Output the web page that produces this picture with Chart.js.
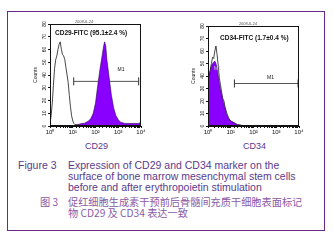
<!DOCTYPE html>
<html>
<head>
<meta charset="utf-8">
<script src="https://cdn.jsdelivr.net/npm/chart.js@4.4.0/dist/chart.umd.min.js"></script>
<style>
  body { margin: 0; width: 333px; height: 240px; background: #fff; position: relative; overflow: hidden;
         font-family: "Liberation Sans", Arial, sans-serif; }
  #frame { position: absolute; left: 7px; top: 11px; width: 316px; height: 218px; border: 1px solid #6b2a87; }
  canvas { position: absolute; }
  .t { position: absolute; white-space: nowrap; color: #5a3a8c; font-size: 10.5px; line-height: 11px; }
  .zh { font-family: "Noto Sans CJK SC", sans-serif; color: #8a5aa6; font-size: 10.2px; }
</style>
</head>
<body>
<div id="frame"></div>
<canvas id="cd29" width="122" height="126" style="left:26px;top:12px"></canvas>
<canvas id="cd34" width="122" height="124" style="left:184px;top:14px"></canvas>

<div class="t" style="left:85px;top:141px;font-size:9px">CD29</div>
<div class="t" style="left:243px;top:141px;font-size:9px">CD34</div>
<div class="t" style="left:18px;top:160px">Figure 3</div>
<div class="t" style="left:68px;top:160px">Expression of CD29 and CD34 marker on the<br>surface of bone marrow mesenchymal stem cells<br>before and after erythropoietin stimulation</div>
<div class="t zh" style="left:40px;top:196px">图 3</div>
<div class="t zh" style="left:68px;top:196px">促红细胞生成素干预前后骨髓间充质干细胞表面标记<br>物 CD29 及 CD34 表达一致</div>

<script>
// x positions are in decades (log10 of the channel value)
const decadeValues = [1, 10, 100, 1000, 10000];
const decadeLabels = ['10⁰', '10¹', '10²', '10³', '10⁴'];

// CD29 panel
const cd29CtrlLog = [0.00, 0.05, 0.10, 0.15, 0.20, 0.25, 0.30, 0.35, 0.40, 0.45, 0.50, 0.55, 0.60, 0.65, 0.70, 0.75, 0.80, 0.85, 0.90, 0.95, 1.00, 1.05, 1.10, 1.20, 1.30, 1.40];
const cd29Ctrl    = [2, 8, 18, 32, 45, 52, 55, 60, 64, 66, 60, 56, 55, 52, 46, 40, 34, 24, 15, 8, 4, 2, 1, 1, 0, 0];
const cd29StainLog = [1.00, 1.20, 1.40, 1.50, 1.60, 1.70, 1.80, 1.90, 2.00, 2.10, 2.20, 2.30, 2.35, 2.40, 2.45, 2.50, 2.60, 2.70, 2.80, 2.90, 3.00, 3.10, 3.30, 3.50, 3.70, 3.90, 4.00];
const cd29Stain    = [0, 1, 2, 2, 3, 4, 6, 10, 18, 32, 45, 56, 62, 66, 63, 52, 38, 24, 14, 8, 5, 3, 2, 2, 2, 2, 3];
const cd29Gate = [11, 7900];
const cd29GateLevel = 35;

// CD34 panel
const cd34CtrlLog = [0.00, 0.05, 0.10, 0.15, 0.20, 0.25, 0.30, 0.35, 0.40, 0.45, 0.50, 0.55, 0.60, 0.65, 0.70, 0.75, 0.80, 0.85, 0.90, 0.95, 1.00, 1.10, 1.20, 1.30, 1.50, 2.00];
const cd34Ctrl    = [48, 40, 45, 50, 55, 54, 60, 64, 57, 48, 38, 33, 27, 22, 20, 15, 12, 9, 7, 5, 4, 3, 2, 1, 0, 0];
const cd34StainLog = [0.00, 0.05, 0.10, 0.15, 0.20, 0.25, 0.30, 0.35, 0.40, 0.45, 0.50, 0.55, 0.60, 0.65, 0.70, 0.75, 0.80, 0.85, 0.90, 0.95, 1.00, 1.10, 1.20, 1.30, 1.40, 1.60];
const cd34Stain    = [36, 40, 44, 48, 50, 51, 52, 50, 46, 40, 34, 29, 25, 21, 17, 14, 10, 8, 6, 5, 4, 3, 2, 1, 1, 0];
const cd34Gate = [14.5, 9100];
const cd34GateLevel = 34;

function points(logs, counts) {
  return logs.map((d, i) => ({ x: Math.pow(10, d), y: counts[i] }));
}

// text drawn inside / above the plot box
const annotate = {
  id: 'annotate',
  afterDatasetsDraw(chart, args, o) {
    const { ctx, chartArea: a, scales } = chart;
    ctx.save();
    ctx.strokeStyle = '#111';
    ctx.lineWidth = 1;
    ctx.strokeRect(a.left + 0.5, a.top + 0.5, a.right - a.left - 1, a.bottom - a.top - 1);
    ctx.fillStyle = '#111';
    ctx.font = 'bold 6.5px "Liberation Sans", Arial';
    ctx.textBaseline = 'middle';
    ctx.fillText(o.title, a.left + o.titleDx, a.top + o.titleDy);
    ctx.font = '5px "Liberation Sans", Arial';
    ctx.textAlign = 'center';
    ctx.fillText('M1', scales.x.getPixelForValue(o.m1x), scales.y.getPixelForValue(o.m1y));
    if (o.ghost) {
      ctx.fillStyle = '#cfcfcf';
      ctx.fillText('M1', scales.x.getPixelForValue(o.ghost[0]), scales.y.getPixelForValue(o.ghost[1]));
    }
    ctx.fillStyle = '#555';
    ctx.font = '4px "Liberation Sans", Arial';
    ctx.textBaseline = 'bottom';
    ctx.fillText('2008-6-24', a.left + o.dateDx, a.top - 0.5);
    ctx.restore();
  }
};

function makeHist(id, ctrl, stain, gate, level, extra) {
  new Chart(document.getElementById(id), {
    type: 'line',
    data: {
      datasets: [
        {
          data: stain,
          borderColor: '#2a0050',
          borderWidth: 0.6,
          backgroundColor: '#8a00ff',
          fill: 'origin',
          pointRadius: 0,
          tension: 0
        },
        {
          data: ctrl,
          borderColor: '#1a1a1a',
          borderWidth: 0.8,
          fill: false,
          pointRadius: 0,
          tension: 0
        },
        {
          data: [{ x: gate[0], y: level }, { x: gate[1], y: level }],
          borderColor: '#555',
          borderWidth: 1,
          pointStyle: 'line',
          rotation: 90,
          pointRadius: 4,
          pointBorderColor: '#333',
          clip: 6
        }
      ]
    },
    options: {
      responsive: false,
      animation: false,
      layout: { padding: { left: 6, right: 7, top: 12, bottom: 0 } },
      plugins: {
        legend: { display: false },
        tooltip: { enabled: false },
        annotate: extra
      },
      scales: {
        x: {
          type: 'logarithmic',
          min: 1,
          max: 10000,
          afterFit: s => { s.height = 12; },
          border: { color: '#111', width: 1 },
          grid: { drawOnChartArea: false, tickLength: 2, color: '#111' },
          ticks: {
            autoSkip: false,
            maxRotation: 0,
            padding: 1,
            color: '#111',
            font: { size: 6, family: '"Liberation Sans", Arial' },
            callback: v => {
              const i = decadeValues.indexOf(v);
              return i >= 0 ? decadeLabels[i] : '';
            }
          }
        },
        y: {
          min: 0,
          max: 80,
          afterFit: s => { s.width = 18; },
          border: { color: '#111', width: 1 },
          grid: { drawOnChartArea: false, tickLength: 2, color: '#111' },
          title: { display: true, text: 'Counts', color: '#222', padding: 1,
                   font: { size: 5, family: '"Liberation Sans", Arial' } },
          ticks: {
            stepSize: 10,
            minRotation: 90,
            maxRotation: 90,
            crossAlign: 'center',
            padding: 1,
            color: '#111',
            font: { size: 5, family: '"Liberation Sans", Arial' }
          }
        }
      }
    },
    plugins: [annotate]
  });
}

makeHist('cd29', points(cd29CtrlLog, cd29Ctrl), points(cd29StainLog, cd29Stain), cd29Gate, cd29GateLevel,
  { title: 'CD29-FITC (95.1±2.4 %)', titleDx: 5, titleDy: 9, m1x: 1320, m1y: 44, dateDx: 34 });
makeHist('cd34', points(cd34CtrlLog, cd34Ctrl), points(cd34StainLog, cd34Stain), cd34Gate, cd34GateLevel,
  { title: 'CD34-FITC (1.7±0.4 %)', titleDx: 12, titleDy: 12, m1x: 560, m1y: 39, ghost: [2.6, 46], dateDx: 40 });
</script>
</body>
</html>
